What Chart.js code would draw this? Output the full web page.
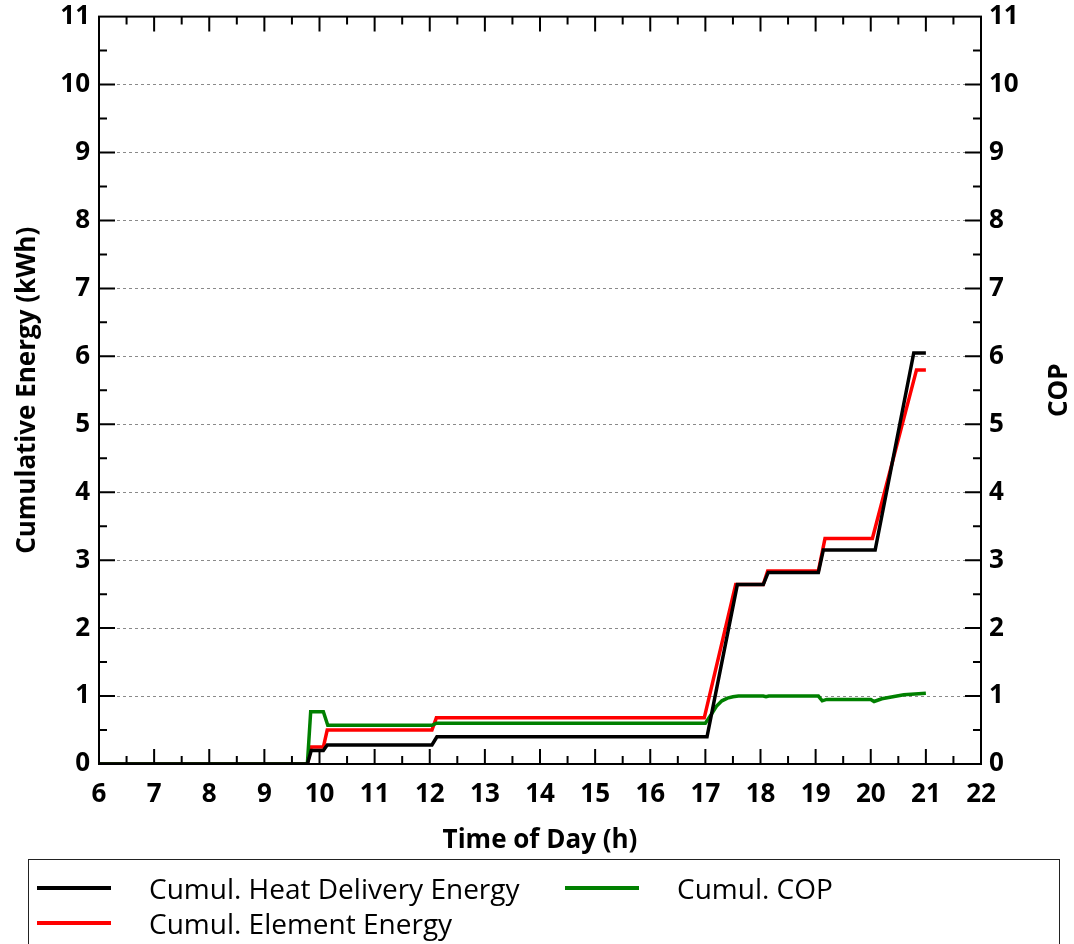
<!DOCTYPE html>
<html>
<head>
<meta charset="utf-8">
<title>Cumulative Energy</title>
<script src="https://cdn.jsdelivr.net/npm/chart.js@4.4.1/dist/chart.umd.min.js"></script>
<style>
  html, body { margin: 0; padding: 0; background: #fff; }
  #wrap { position: relative; width: 1074px; height: 944px; overflow: hidden; }
  #chart { position: absolute; left: 0; top: -8px; }
  #legend {
    position: absolute; left: 28px; top: 859px; width: 1030px; height: 120px;
    border: 1.5px solid #222; font-family: "Open Sans"; font-size: 28px; color: #000;
  }
  .item { position: absolute; height: 34px; }
  .swatch { position: absolute; left: 0; top: 15px; width: 74px; height: 4px; }
  .label { position: absolute; white-space: nowrap; top: 0; line-height: 34px; }
</style>
</head>
<body>
<div id="wrap">
  <canvas id="chart" width="1074" height="952"></canvas>
  <div id="legend"></div>
</div>
<script>
// Cumulative heat delivery energy (kWh)
const heatTime = [6, 9.78, 9.85, 10.07, 10.14, 12.04, 12.13, 17.03, 17.58, 18.05, 18.14, 19.05, 19.14, 20.08, 20.78, 21.0];
const heatEnergy = [0, 0, 0.2, 0.2, 0.28, 0.28, 0.4, 0.4, 2.64, 2.64, 2.82, 2.82, 3.15, 3.15, 6.05, 6.05];

// Cumulative element energy (kWh)
const elemTime = [6, 9.78, 9.85, 10.07, 10.14, 12.04, 12.12, 16.98, 17.55, 18.05, 18.13, 19.05, 19.17, 20.03, 20.83, 21.0];
const elemEnergy = [0, 0, 0.25, 0.25, 0.5, 0.5, 0.68, 0.68, 2.64, 2.64, 2.84, 2.84, 3.32, 3.32, 5.8, 5.8];

// Cumulative COP (right axis)
const copTime = [6, 9.78, 9.84, 10.07, 10.15, 12.04, 12.12, 17.0, 17.1, 17.2, 17.3, 17.4, 17.5, 17.6, 18.05, 18.1, 18.15, 19.05, 19.12, 19.2, 20.0, 20.06, 20.2, 20.4, 20.6, 20.8, 21.0];
const copValue = [0, 0, 0.77, 0.77, 0.57, 0.57, 0.6, 0.6, 0.72, 0.85, 0.93, 0.97, 0.99, 1.0, 1.0, 0.99, 1.0, 1.0, 0.93, 0.95, 0.95, 0.92, 0.96, 0.99, 1.02, 1.03, 1.04];

const seriesNames = ['Cumul. Heat Delivery Energy', 'Cumul. Element Energy', 'Cumul. COP'];
const seriesColors = ['#000000', '#ff0000', '#008000'];

const toPoints = (xs, ys) => xs.map((x, i) => ({ x: x, y: ys[i] }));

Chart.defaults.font.family = '"Open Sans", sans-serif';
Chart.defaults.color = '#000';

// frame on all four sides with inward major/minor ticks, plus the right title (reads upward)
const framePlugin = {
  id: 'frame',
  afterDatasetsDraw(chart) {
    const { ctx, chartArea: a, scales } = chart;
    const xs = scales.x, ys = scales.y, ys2 = scales.y2;
    ctx.save();
    ctx.strokeStyle = '#000';
    ctx.lineWidth = 2;
    ctx.beginPath();
    for (let v = 6.5; v < 22; v += 0.5) {
      const len = Number.isInteger(v) ? 15 : 8;
      const px = xs.getPixelForValue(v);
      ctx.moveTo(px, a.bottom); ctx.lineTo(px, a.bottom - len);
      ctx.moveTo(px, a.top); ctx.lineTo(px, a.top + len);
    }
    for (let v = 0.5; v < 11; v += 0.5) {
      const len = Number.isInteger(v) ? 16 : 8;
      const py = ys.getPixelForValue(v);
      ctx.moveTo(a.left, py); ctx.lineTo(a.left + len, py);
      const py2 = ys2.getPixelForValue(v);
      ctx.moveTo(a.right, py2); ctx.lineTo(a.right - len, py2);
    }
    ctx.stroke();
    ctx.strokeRect(a.left, a.top, a.right - a.left, a.bottom - a.top);

    ctx.translate(ys2.right - 14, (a.top + a.bottom) / 2);
    ctx.rotate(-Math.PI / 2);
    ctx.font = 'bold 26px "Open Sans"';
    ctx.fillStyle = '#000';
    ctx.textAlign = 'center';
    ctx.textBaseline = 'middle';
    ctx.fillText('COP', 0, 0);
    ctx.restore();
  }
};

const chart = new Chart(document.getElementById('chart'), {
  type: 'line',
  data: {
    datasets: [
      { label: seriesNames[0], data: toPoints(heatTime, heatEnergy), borderColor: seriesColors[0], yAxisID: 'y', order: 1 },
      { label: seriesNames[1], data: toPoints(elemTime, elemEnergy), borderColor: seriesColors[1], yAxisID: 'y', order: 3 },
      { label: seriesNames[2], data: toPoints(copTime, copValue), borderColor: seriesColors[2], yAxisID: 'y2', order: 2 }
    ]
  },
  options: {
    responsive: false,
    animation: false,
    events: [],
    elements: {
      line: { borderWidth: 3.5, tension: 0, fill: false },
      point: { radius: 0 }
    },
    layout: { padding: { top: 0, left: 0, right: 0, bottom: 84 } },
    plugins: { legend: { display: false }, tooltip: { enabled: false } },
    scales: {
      x: {
        type: 'linear', min: 6, max: 22,
        ticks: { stepSize: 1, padding: 15, font: { size: 26, weight: 'bold' } },
        grid: { display: false, drawTicks: false },
        border: { display: false },
        title: { display: true, text: 'Time of Day (h)', font: { size: 26, weight: 'bold' }, padding: { top: 0, bottom: 4 } },
        afterFit(s) { s.height = 96; }
      },
      y: {
        position: 'left', min: 0, max: 11,
        ticks: { stepSize: 1, padding: 9, font: { size: 26, weight: 'bold' } },
        grid: { color: '#8a8a8a', lineWidth: 1, drawTicks: false },
        border: { display: false, dash: [3, 3] },
        title: { display: true, text: 'Cumulative Energy (kWh)', font: { size: 26, weight: 'bold' }, padding: { top: 12, bottom: 0 } },
        afterFit(s) { s.width = 99; }
      },
      y2: {
        position: 'right', min: 0, max: 11,
        ticks: { stepSize: 1, padding: 8, font: { size: 26, weight: 'bold' } },
        grid: { display: false, drawTicks: false },
        border: { display: false },
        afterFit(s) { s.width = 93; }
      }
    }
  },
  plugins: [framePlugin]
});

// legend below the chart: two columns, heat + COP on row one, element on row two
const legendPos = [
  { left: 8, top: 11, idx: 0 },
  { left: 536, top: 11, idx: 2 },
  { left: 8, top: 46, idx: 1 }
];
const legendEl = document.getElementById('legend');
legendPos.forEach(p => {
  const ds = chart.data.datasets[p.idx];
  const item = document.createElement('div');
  item.className = 'item';
  item.style.left = p.left + 'px';
  item.style.top = p.top + 'px';
  item.innerHTML = '<div class="swatch" style="background:' + ds.borderColor + '"></div>' +
    '<div class="label" style="left:112px">' + ds.label + '</div>';
  legendEl.appendChild(item);
});
</script>
</body>
</html>
